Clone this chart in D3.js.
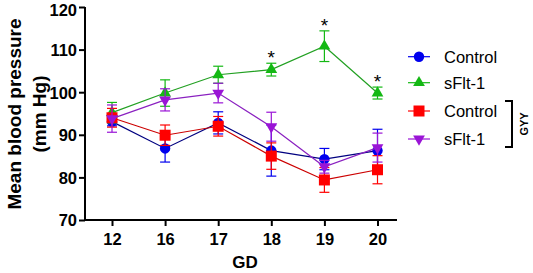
<!DOCTYPE html>
<html><head><meta charset="utf-8">
<script src="https://cdn.jsdelivr.net/npm/d3@7"></script>
<style>body{margin:0;background:#fff}svg{display:block}text{font-family:"Liberation Sans",Arial,sans-serif}</style>
</head><body><svg id="c" width="533" height="273"></svg>
<script>
const categories = ["12","16","17","18","19","20"];
const controlMean = [93.1, 86.8, 92.8, 86.3, 84.3, 86.3];
const controlErr  = [1.0, 3.2, 2.6, 6.0, 2.5, 5.0];
const sflt1Mean   = [95.2, 99.8, 104.1, 105.3, 110.8, 99.8];
const sflt1Err    = [2.4, 3.1, 2.0, 1.5, 3.6, 1.4];
const gyyControlMean = [94.0, 89.9, 92.0, 85.0, 79.4, 81.8];
const gyyControlErr  = [2.2, 2.4, 2.3, 3.1, 2.9, 3.3];
const gyySflt1Mean   = [93.8, 98.2, 99.8, 91.9, 82.5, 87.0];
const gyySflt1Err    = [3.2, 2.6, 2.3, 3.4, 1.5, 3.4];
const starCats = ["18","19","20"];
const yTicks = [70, 80, 90, 100, 110, 120];

const series = [
  {name:"Control", mean:controlMean, err:controlErr, color:"#0000ee", line:"#000080", shape:"circle"},
  {name:"sFlt-1", mean:sflt1Mean, err:sflt1Err, color:"#14b814", line:"#22a022", shape:"triangle"},
  {name:"Control", mean:gyyControlMean, err:gyyControlErr, color:"#ff0000", line:"#cc0000", shape:"square"},
  {name:"sFlt-1", mean:gyySflt1Mean, err:gyySflt1Err, color:"#9a14d6", line:"#8a20c0", shape:"triangleDown"}
];

const svg = d3.select("#c");
const x = d3.scalePoint().domain(categories).range([112, 377.5]);
const y = d3.scaleLinear().domain([70, 120]).range([220, 7]);

function marker(g, shape, color){
  if(shape==="circle") g.append("circle").attr("r",5.2).attr("fill",color);
  else if(shape==="square") g.append("rect").attr("x",-5.5).attr("y",-5.5).attr("width",11).attr("height",11).attr("fill",color);
  else if(shape==="triangle") g.append("path").attr("d",d3.symbol(d3.symbolTriangle,60)()).attr("fill",color);
  else g.append("path").attr("d",d3.symbol(d3.symbolTriangle,60)()).attr("transform","rotate(180)").attr("fill",color);
}

series.forEach(s=>{
  const g = svg.append("g");
  const line = d3.line().x((d,i)=>x(categories[i])).y(d=>y(d));
  g.append("path").attr("d",line(s.mean)).attr("fill","none").attr("stroke",s.line).attr("stroke-width",1.2);
  s.mean.forEach((m,i)=>{
    const cx = x(categories[i]);
    const e = g.append("g").attr("stroke",s.color).attr("stroke-width",1.2);
    e.append("line").attr("x1",cx).attr("x2",cx).attr("y1",y(m+s.err[i])).attr("y2",y(m-s.err[i]));
    e.append("line").attr("x1",cx-5).attr("x2",cx+5).attr("y1",y(m+s.err[i])).attr("y2",y(m+s.err[i]));
    e.append("line").attr("x1",cx-5).attr("x2",cx+5).attr("y1",y(m-s.err[i])).attr("y2",y(m-s.err[i]));
    marker(g.append("g").attr("transform",`translate(${cx},${y(m)})`), s.shape, s.color);
  });
});

starCats.forEach(c=>{
  const i = categories.indexOf(c);
  svg.append("text").attr("x",x(c)).attr("y",y(sflt1Mean[i]+sflt1Err[i])-3)
    .attr("text-anchor","middle").attr("font-size",19).attr("dy","0.75em").attr("transform","translate(0,-10)").text("*");
});

const yAxis = svg.append("g").attr("transform","translate(85,0)")
  .call(d3.axisLeft(y).tickValues(yTicks).tickSize(6).tickPadding(2));
const xAxis = svg.append("g").attr("transform","translate(0,220)")
  .call(d3.axisBottom(x).tickSize(6).tickPadding(7));
xAxis.select(".domain").attr("d","M85,0H397");
yAxis.select(".domain").attr("d","M0,220V7");
[yAxis,xAxis].forEach(a=>{
  a.selectAll(".domain,.tick line").attr("stroke","#000").attr("stroke-width",2);
  a.selectAll("text").attr("font-size",16.5).attr("font-weight","bold").attr("fill","#000")
   .style("font-family","'Liberation Sans',Arial,sans-serif");
});
yAxis.selectAll("text").attr("dy","0.36em");
yAxis.selectAll(".tick").filter(d=>d===120).select("text").attr("dy","0.5em");

svg.append("text").attr("x",245).attr("y",268).attr("text-anchor","middle")
  .attr("font-size",17).attr("font-weight","bold").text("GD");
const yt = svg.append("text").attr("transform","translate(0,114) rotate(-90)").attr("text-anchor","middle")
  .attr("font-size",19).attr("font-weight","bold");
yt.append("tspan").attr("x",0).attr("y",21).text("Mean blood pressure");
yt.append("tspan").attr("x",0).attr("y",46).text("(mm Hg)");

const legY = [56.7, 82.7, 111, 139];
series.forEach((s,i)=>{
  const g = svg.append("g").attr("transform",`translate(419,${legY[i]})`);
  g.append("line").attr("x1",-11).attr("x2",11).attr("stroke",s.color).attr("stroke-width",1.2);
  marker(g, s.shape, s.color);
  g.append("text").attr("x",25).attr("y",6).attr("font-size",16.5).text(s.name);
});
svg.append("path").attr("d","M505,101H512V147H505").attr("fill","none").attr("stroke","#000").attr("stroke-width",2);
svg.append("text").attr("transform","translate(528,124) rotate(-90)").attr("text-anchor","middle")
  .attr("font-size",11).attr("font-weight","bold").text("GYY");
</script></body></html>
